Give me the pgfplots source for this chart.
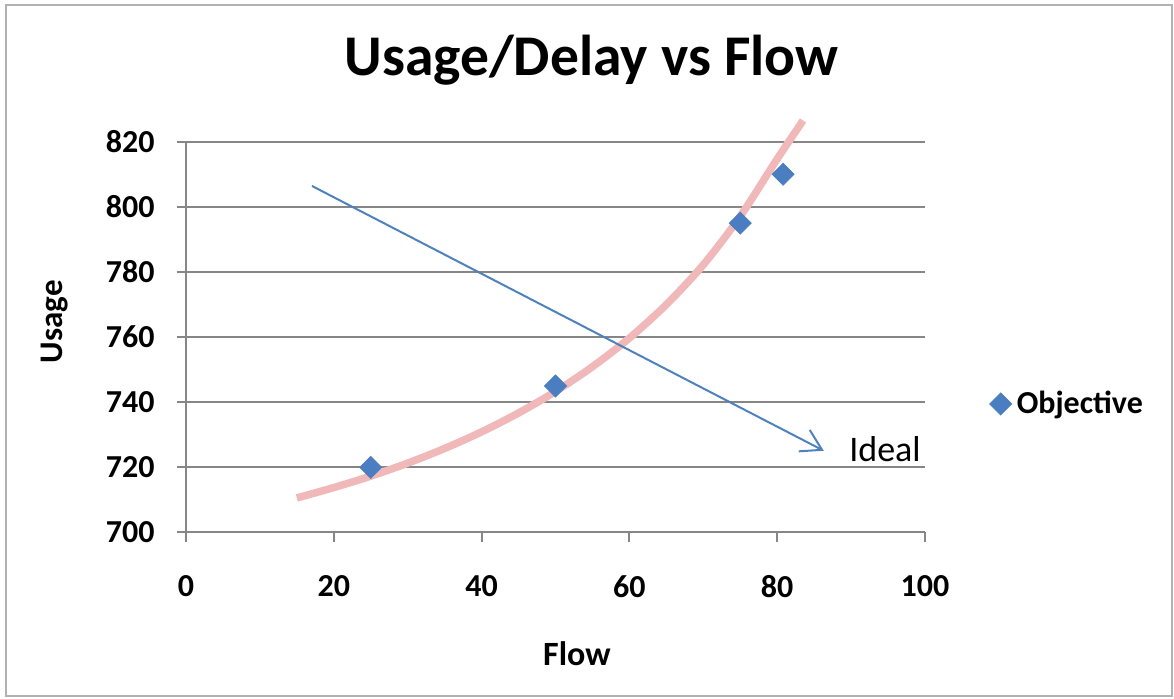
\documentclass[border=0pt]{standalone}
\usepackage{fontspec}
\setmainfont{Carlito}
\usepackage{pgfplots}
\pgfplotsset{compat=1.18}
\usetikzlibrary{arrows.meta}
\definecolor{gridgray}{RGB}{134,134,134}
\definecolor{markblue}{RGB}{74,126,193}
\definecolor{arrowblue}{RGB}{79,129,189}
\definecolor{trendpink}{RGB}{240,184,184}
\begin{document}
\begin{tikzpicture}
\useasboundingbox (0,0) rectangle (587pt,349.5pt);
\draw[gray!60, line width=1pt] (3pt,1.5pt) rectangle (586pt,347pt);
\begin{axis}[
 at={(93pt,83.25pt)}, anchor=south west,
 scale only axis, width=369.5pt, height=195.4pt,
 xmin=0, xmax=100, ymin=700, ymax=820,
 xtick={0,20,...,100}, ytick={700,720,...,820},
 axis x line=bottom, axis y line=left,
 axis line style={gridgray, line width=1pt, -},
 tick align=outside, major tick length=4.65pt,
 tick style={gridgray, line width=1pt},
 ymajorgrids, grid style={gridgray, line width=1pt},
 clip=false,
 /pgf/number format/assume math mode=true,
 ticklabel style={font=\bfseries\fontsize{16}{19}\selectfont, inner sep=0pt},
 xticklabel style={anchor=north, yshift=-16.6pt},
 yticklabel style={anchor=east, xshift=-10.85pt},
 title={Usage/Delay vs Flow},
 title style={at={(rel axis cs:0.5487,1.1374)}, anchor=base, font=\bfseries\fontsize{28.8}{34}\selectfont, inner sep=0pt},
 xlabel={Flow},
 xlabel style={at={(rel axis cs:0.529,-0.3408)}, anchor=base, font=\bfseries\fontsize{17}{20}\selectfont, inner sep=0pt},
 ylabel={Usage},
 ylabel style={at={(rel axis cs:-0.1668,0.5394)}, anchor=base, font=\bfseries\fontsize{16.5}{20}\selectfont, inner sep=0pt},
 legend style={at={(1.087,0.329)}, anchor=west, draw=none, fill=none, inner sep=0pt, font=\bfseries\fontsize{16}{19}\selectfont, nodes={inner sep=2.5pt}},
 legend cell align=left,
 legend image code/.code={\draw[#1] plot coordinates {(5.5pt,0pt)};},
]
\addplot[only marks, mark=square*, mark size=3.9pt, mark options={rotate=45, fill=markblue, draw=markblue}]
 coordinates {(25,720) (50,745) (75,795) (80.8,810)};
\addlegendentry{Objective}
\addplot[trendpink, line width=3.75pt, smooth, forget plot] coordinates {
 (15,710.6) (20,713.8) (25,717.3) (30,721.3) (35,725.8) (40,730.9) (45,736.7)
 (50,743.3) (55,750.9) (60,759.7) (65,770.0) (70,782.2) (75,797.1) (80,814.7) (83.5,826.5)};
\addplot[arrowblue, line width=1pt, -{Straight Barb[length=10pt,width=12pt]}, forget plot]
 coordinates {(17.05,806.4) (86.3,725.1)};
\node[anchor=base west, font=\fontsize{18}{21}\selectfont, inner sep=0pt] at (axis cs:89.7,721.7) {Ideal};
\end{axis}
\end{tikzpicture}
\end{document}
